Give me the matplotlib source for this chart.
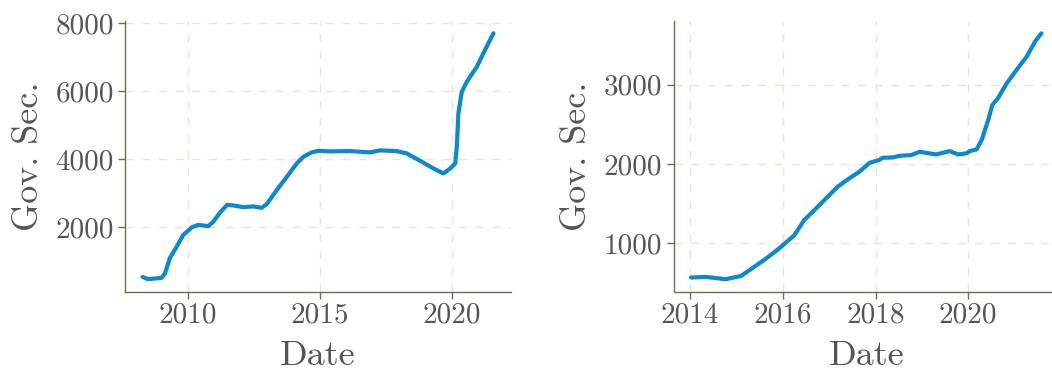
import matplotlib
matplotlib.use("Agg")
import matplotlib.pyplot as plt

# Left panel: Gov. Sec. (long history)
left_years = [2008.27, 2008.48, 2008.99, 2009.12, 2009.30, 2009.56, 2009.81, 2010.13, 2010.38,
              2010.76, 2010.95, 2011.20, 2011.48, 2011.71, 2012.09, 2012.47, 2012.79, 2012.98,
              2013.36, 2013.74, 2014.12, 2014.37, 2014.68, 2014.94, 2015.38, 2016.14, 2016.90,
              2017.28, 2017.91, 2018.29, 2018.80, 2019.30, 2019.68, 2019.94, 2020.13, 2020.19,
              2020.25, 2020.38, 2020.57, 2020.95, 2021.26, 2021.58]
left_values = [547, 479, 518, 647, 1088, 1429, 1774, 2000, 2076,
               2038, 2165, 2429, 2665, 2647, 2597, 2618, 2576, 2685,
               3097, 3488, 3882, 4076, 4206, 4253, 4235, 4244, 4206,
               4265, 4244, 4176, 3959, 3735, 3588, 3735, 3882, 4371,
               5353, 5988, 6282, 6724, 7215, 7706]

# Right panel: Gov. Sec. (since 2014)
right_years = [2014.02, 2014.34, 2014.77, 2015.10, 2015.28, 2015.64, 2015.92, 2016.25, 2016.46,
               2016.68, 2016.93, 2017.18, 2017.40, 2017.65, 2017.87, 2018.07, 2018.16, 2018.37,
               2018.52, 2018.77, 2018.95, 2019.31, 2019.60, 2019.78, 2019.96, 2020.03, 2020.18,
               2020.29, 2020.43, 2020.52, 2020.64, 2020.83, 2021.04, 2021.26, 2021.44, 2021.58]
right_values = [571, 579, 550, 591, 663, 811, 937, 1105, 1294,
                1420, 1567, 1714, 1807, 1903, 2016, 2050, 2080, 2084,
                2105, 2114, 2155, 2122, 2164, 2122, 2135, 2164, 2185,
                2303, 2555, 2744, 2829, 3018, 3185, 3353, 3542, 3648]

left_xticks = [2010, 2015, 2020]
left_yticks = [2000, 4000, 6000, 8000]
right_xticks = [2014, 2016, 2018, 2020]
right_yticks = [1000, 2000, 3000]

LINE = "#0a88d2"
SPINE = "#7d6650"
TEXT = "#555555"
GRID = "#efe3d6"

plt.rcParams["font.family"] = "cmr10"
plt.rcParams["axes.formatter.use_mathtext"] = True

W, H = 1052, 372
fig = plt.figure(figsize=(W / 100, H / 100), dpi=100)

def px_axes(x0, x1, y_top, y_bot):
    return fig.add_axes([x0 / W, 1 - y_bot / H, (x1 - x0) / W, (y_bot - y_top) / H])

ax1 = px_axes(125, 511, 21, 291.5)
ax2 = px_axes(673.5, 1059, 21, 291.5)

panels = [
    (ax1, left_years, left_values, left_xticks, left_yticks),
    (ax2, right_years, right_values, right_xticks, right_yticks),
]

for ax, xs, ys, xt, yt in panels:
    ax.plot(xs, ys, color=LINE, lw=3.0, solid_capstyle="round",
            solid_joinstyle="round", zorder=3)
    ax.margins(x=0.05, y=0.05)
    ax.set_xticks(xt)
    ax.set_yticks(yt)
    ax.set_xticklabels([str(v) for v in xt])
    ax.set_yticklabels([str(v) for v in yt])
    ax.grid(True, color=GRID, lw=1.0, linestyle=(0, (6, 6)), zorder=0)
    for s in ["top", "right"]:
        ax.spines[s].set_visible(False)
    for s in ["left", "bottom"]:
        ax.spines[s].set_color(SPINE)
        ax.spines[s].set_linewidth(1.0)
    ax.tick_params(axis="both", colors=SPINE, labelcolor=TEXT, length=5, width=1.0,
                   labelsize=21, pad=3)
    ax.set_xlabel("Date", fontsize=26, color=TEXT, labelpad=8)
    ax.set_ylabel("Gov. Sec.", fontsize=26, color=TEXT, labelpad=7.5)

fig.savefig("out.png", dpi=100)
